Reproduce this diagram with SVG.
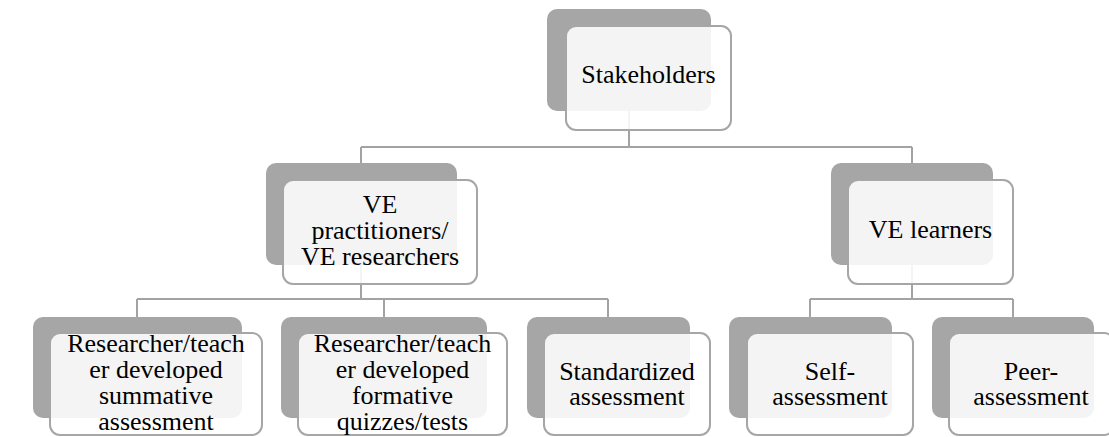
<svg xmlns="http://www.w3.org/2000/svg" width="1109" height="437" viewBox="0 0 1109 437">
  <style>
    .back { fill: #a6a6a6; }
    .front { fill: #ffffff; fill-opacity: 0.88; stroke: #a6a6a6; stroke-width: 2; }
    .link { fill: none; stroke: #a3a3a3; stroke-width: 2; }
    .label { font-family: "Liberation Serif", "Times New Roman", serif; font-size: 26px; fill: #000000; text-anchor: middle; }
  </style>
  <rect x="0" y="0" width="1109" height="437" fill="#ffffff"/>

  <!-- tree connectors, drawn under the cards -->
  <g id="connectors">
    <path class="link" d="M629 111 V147 M361 147 H912 M361 147 V163 M912 147 V163"/>
    <path class="link" d="M361 265 V299 M137 299 H608 M137 299 V317 M384 299 V317 M608 299 V317"/>
    <path class="link" d="M912 265 V299 M810 299 H1013 M810 299 V317 M1013 299 V317"/>
  </g>

  <g id="stakeholders">
    <rect class="back" x="547" y="9" width="164" height="102" rx="10"/>
    <rect class="front" x="566" y="26" width="165" height="104" rx="10"/>
    <text class="label" x="648.5" y="83">Stakeholders</text>
  </g>

  <g id="ve-practitioners">
    <rect class="back" x="266" y="163" width="191" height="102" rx="10"/>
    <rect class="front" x="283" y="180" width="194" height="104" rx="10"/>
    <text class="label" x="380" y="213">VE</text>
    <text class="label" x="380" y="239">practitioners/</text>
    <text class="label" x="380" y="265">VE researchers</text>
  </g>

  <g id="ve-learners">
    <rect class="back" x="831" y="163" width="162" height="102" rx="10"/>
    <rect class="front" x="848" y="180" width="165" height="104" rx="10"/>
    <text class="label" x="930.5" y="238">VE learners</text>
  </g>

  <g id="summative">
    <rect class="back" x="33" y="317" width="209" height="101" rx="10"/>
    <rect class="front" x="50" y="333" width="212" height="102" rx="10"/>
    <text class="label" x="156" y="352">Researcher/teach</text>
    <text class="label" x="156" y="378">er developed</text>
    <text class="label" x="156" y="404">summative</text>
    <text class="label" x="156" y="430">assessment</text>
  </g>

  <g id="formative">
    <rect class="back" x="281" y="317" width="206" height="101" rx="10"/>
    <rect class="front" x="298" y="333" width="209" height="102" rx="10"/>
    <text class="label" x="402.5" y="352">Researcher/teach</text>
    <text class="label" x="402.5" y="378">er developed</text>
    <text class="label" x="402.5" y="404">formative</text>
    <text class="label" x="402.5" y="430">quizzes/tests</text>
  </g>

  <g id="standardized">
    <rect class="back" x="527" y="317" width="163" height="101" rx="10"/>
    <rect class="front" x="544" y="333" width="166" height="102" rx="10"/>
    <text class="label" x="627" y="380">Standardized</text>
    <text class="label" x="627" y="405">assessment</text>
  </g>

  <g id="self-assessment">
    <rect class="back" x="729" y="317" width="163" height="101" rx="10"/>
    <rect class="front" x="747" y="333" width="166" height="102" rx="10"/>
    <text class="label" x="830" y="380">Self-</text>
    <text class="label" x="830" y="405">assessment</text>
  </g>

  <g id="peer-assessment">
    <rect class="back" x="932" y="317" width="162" height="101" rx="10"/>
    <rect class="front" x="949" y="333" width="165" height="102" rx="10"/>
    <text class="label" x="1031" y="380">Peer-</text>
    <text class="label" x="1031" y="405">assessment</text>
  </g>
</svg>
